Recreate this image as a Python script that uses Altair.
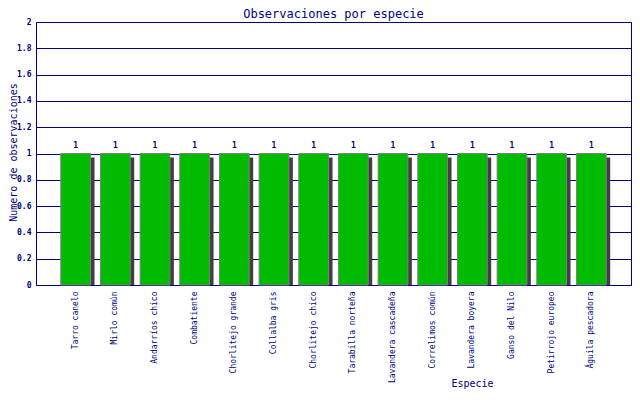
import altair as alt
import pandas as pd

especies = [
    "Tarro canelo", "Mirlo común", "Andarríos chico", "Combatiente",
    "Chorlitejo grande", "Collalba gris", "Chorlitejo chico",
    "Tarabilla norteña", "Lavandera cascadeña", "Correlimos común",
    "Lavandera boyera", "Ganso del Nilo", "Petirrojo europeo",
    "Águila pescadora",
]
observaciones = [1, 1, 1, 1, 1, 1, 1, 1, 1, 1, 1, 1, 1, 1]
y_ticks = [0, 0.2, 0.4, 0.6, 0.8, 1, 1.2, 1.4, 1.6, 1.8, 2]

df = pd.DataFrame({"Especie": especies, "Obs": observaciones})

NAVY = "#000080"
MONO = "DejaVu Sans Mono"

x_enc = alt.X(
    "Especie:N",
    sort=especies,
    scale=alt.Scale(paddingInner=0.25, paddingOuter=0.625),
    axis=alt.Axis(
        title="Especie",
        labelAngle=-90,
        labelFont=MONO,
        labelFontSize=8,
        labelColor=NAVY,
        labelPadding=6,
        ticks=False,
        domainColor=NAVY,
        titleFont=MONO,
        titleFontSize=10,
        titleFontWeight="normal",
        titleColor=NAVY,
        titleX=436,
        titleY=98,
        titleBaseline="middle",
        titleAlign="center",
    ),
)
y_enc = alt.Y(
    "Obs:Q",
    scale=alt.Scale(domain=[0, 2], nice=False),
    axis=alt.Axis(
        title="Numero de observaciones",
        values=y_ticks,
        format="~g",
        labelFont=MONO,
        labelFontSize=8,
        labelFontWeight="bold",
        labelColor=NAVY,
        labelPadding=5,
        ticks=False,
        domainColor=NAVY,
        grid=True,
        gridColor=NAVY,
        gridWidth=1,
        gridOpacity=1,
        titleFont=MONO,
        titleFontSize=10,
        titleFontWeight="normal",
        titleColor=NAVY,
        titleX=-23,
        titleY=130,
        titleAngle=-90,
        titleBaseline="middle",
        titleAlign="center",
    ),
)

base = alt.Chart(df)

shadow = base.mark_bar(
    color="#404040", xOffset=4, yOffset=4, clip=True
).encode(x=x_enc, y=y_enc)

bars = base.mark_bar(
    color="#00BB00", stroke="#808080", strokeWidth=1
).encode(x=x_enc, y=y_enc)

labels = base.mark_text(
    dy=-8, baseline="middle", font=MONO, fontSize=8, fontWeight="bold", color=NAVY
).encode(x=x_enc, y=y_enc, text="Obs:Q")

chart = (
    alt.layer(shadow, bars, labels)
    .properties(
        width=595,
        height=263,
        title=alt.TitleParams(
            "Observaciones por especie",
            font=MONO,
            fontSize=12,
            fontWeight="normal",
            color=NAVY,
            anchor="middle",
            offset=-3,
        ),
        autosize=alt.AutoSizeParams(type="none"),
        padding={"left": 28, "top": 14, "right": 1, "bottom": 105},
        background="white",
    )
    .configure_view(stroke=NAVY, strokeWidth=1)
)

chart.save("out.html", embed_options={"renderer": "svg", "actions": False})
